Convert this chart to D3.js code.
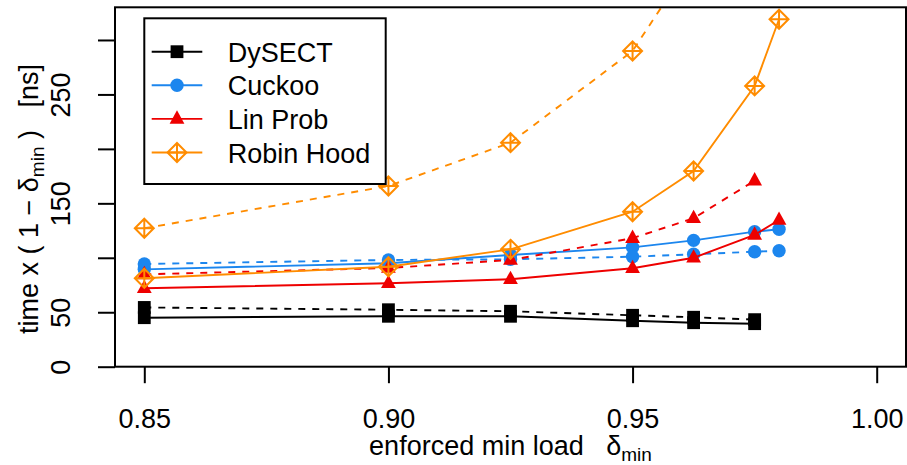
<!DOCTYPE html>
<html>
<head>
<meta charset="utf-8">
<script src="https://cdn.jsdelivr.net/npm/d3@7"></script>
<style>
  body { margin: 0; background: #fff; }
  svg { font-family: "Liberation Sans", Arial, Helvetica, sans-serif; }
  text { white-space: pre; }
</style>
</head>
<body>
<div id="chart"></div>
<script>
// load factor values on the x axis
const loads = [0.85, 0.90, 0.925, 0.95, 0.9625, 0.975, 0.98];

// time x (1 - delta_min) in ns, null = not measured
const dysectSolid  = [45.0, 46.3, 46.3, 42.2, 40.4, 39.5, null];
const dysectDashed = [54.4, 52.3, 50.9, 47.2, 45.4, 43.2, null];
const cuckooSolid  = [89.4, 95.0, 102.6, 109.6, 116.0, 124.0, 126.2];
const cuckooDashed = [94.3, 98.0, 98.6, 101.0, 103.2, 105.6, 106.5];
const linSolid     = [72.0, 76.6, 80.3, 90.4, 100.0, 121.0, 134.7];
const linDashed    = [84.8, 90.6, 98.0, 118.0, 136.3, 170.8, null];
const robinSolid   = [81.2, 91.8, 107.8, 142.3, 179.7, 257.8, 319.0];
const robinDashed  = [127.1, 165.9, 205.7, 289.9, 375.0, null, null];

const xTicks = [0.85, 0.90, 0.95, 1.00];
const yTicks = [0, 50, 100, 150, 200, 250, 300];
const yLabelled = [0, 50, 150, 250];

const names  = ["DySECT", "Cuckoo", "Lin Prob", "Robin Hood"];
const colors = ["#000000", "#1C86EE", "#EE0000", "#FF8C00"];
const shapes = ["square", "circle", "triangle", "diamond"];

const series = [
    { k: 0, values: dysectSolid,  dash: null },
    { k: 0, values: dysectDashed, dash: "7,7" },
    { k: 1, values: cuckooSolid,  dash: null },
    { k: 1, values: cuckooDashed, dash: "7,7" },
    { k: 2, values: linSolid,     dash: null },
    { k: 2, values: linDashed,    dash: "7,7" },
    { k: 3, values: robinSolid,   dash: null },
    { k: 3, values: robinDashed,  dash: "7,7" }
];

const width = 907, height = 465;
const box = { left: 115, right: 906, top: 7.3, bottom: 366.7 };
const FS = 27;

const svg = d3.select("#chart").append("svg")
    .attr("width", width)
    .attr("height", height);

const x = d3.scaleLinear().domain([0.844, 1.006]).range([box.left, box.right]);
const y = d3.scaleLinear().domain([0, 330]).range([box.bottom, box.top]);

svg.append("clipPath").attr("id", "clip")
    .append("rect")
    .attr("x", box.left).attr("y", box.top)
    .attr("width", box.right - box.left).attr("height", box.bottom - box.top);

// marker drawing
function drawMarker(g, shape, color) {
    if (shape === "square") {
        g.append("rect").attr("x", -6.4).attr("y", -6.4).attr("width", 12.8).attr("height", 12.8)
            .attr("fill", color);
    } else if (shape === "circle") {
        g.append("circle").attr("r", 6.7).attr("fill", color);
    } else if (shape === "triangle") {
        g.append("path").attr("d", "M0,-8.6L7.4,4.8L-7.4,4.8Z").attr("fill", color);
    } else {
        const s = 9.5;
        g.append("path")
            .attr("d", `M0,${-s}L${s},0L0,${s}L${-s},0Z M0,${-s}L0,${s} M${-s},0L${s},0`)
            .attr("fill", "none").attr("stroke", color).attr("stroke-width", 2);
    }
}

const plot = svg.append("g").attr("clip-path", "url(#clip)");

const line = d3.line()
    .defined(d => d.v != null)
    .x(d => x(d.x))
    .y(d => y(d.v));

series.forEach(s => {
    const pts = loads.map((l, i) => ({ x: l, v: s.values[i] }));
    const g = plot.append("g");
    g.append("path")
        .datum(pts)
        .attr("d", line)
        .attr("fill", "none")
        .attr("stroke", colors[s.k])
        .attr("stroke-width", 1.9)
        .attr("stroke-dasharray", s.dash);
    pts.filter(d => d.v != null).forEach(d => {
        const m = g.append("g").attr("transform", `translate(${x(d.x)},${y(d.v)})`);
        drawMarker(m, shapes[s.k], colors[s.k]);
    });
});

// frame
svg.append("rect")
    .attr("x", box.left).attr("y", box.top)
    .attr("width", box.right - box.left).attr("height", box.bottom - box.top)
    .attr("fill", "none").attr("stroke", "#000").attr("stroke-width", 2);

// x axis
const xAxis = svg.append("g")
    .attr("transform", `translate(0,${box.bottom})`)
    .call(d3.axisBottom(x).tickValues(xTicks).tickFormat(d3.format(".2f"))
        .tickSize(16.5).tickPadding(25.5));
xAxis.select(".domain").remove();
xAxis.selectAll(".tick line").attr("stroke-width", 2);
xAxis.selectAll(".tick text").attr("font-size", FS).attr("font-family", null).attr("fill", "#000");

// y axis
const yAxis = svg.append("g")
    .attr("transform", `translate(${box.left},0)`)
    .call(d3.axisLeft(y).tickValues(yTicks)
        .tickFormat(d => yLabelled.includes(d) ? d : "")
        .tickSize(17));
yAxis.select(".domain").remove();
yAxis.selectAll(".tick line").attr("stroke-width", 2);
yAxis.selectAll(".tick text")
    .attr("font-size", FS).attr("font-family", null).attr("fill", "#000")
    .attr("x", null).attr("dy", null)
    .attr("text-anchor", "middle")
    .attr("transform", "translate(-45,0) rotate(-90)");

// axis titles
const xt = svg.append("text")
    .attr("x", (box.left + box.right) / 2)
    .attr("y", 455)
    .attr("text-anchor", "middle")
    .attr("font-size", FS);
xt.append("tspan").text("enforced min load   δ");
xt.append("tspan").attr("font-size", 19).attr("dy", 6).text("min");

const yt = svg.append("text")
    .attr("transform", `translate(38,${(box.top + box.bottom) / 2 + 12}) rotate(-90)`)
    .attr("text-anchor", "middle")
    .attr("font-size", FS);
yt.append("tspan").text("time x ( 1 − δ");
yt.append("tspan").attr("font-size", 19).attr("dy", 6).text("min");
yt.append("tspan").attr("dy", -6).text(" )   [ns]");

// legend
const leg = svg.append("g");
leg.append("rect")
    .attr("x", 144.3).attr("y", 18.3).attr("width", 241.4).attr("height", 165.7)
    .attr("fill", "#fff").attr("stroke", "#000").attr("stroke-width", 2);
names.forEach((n, i) => {
    const ly = 51.7 + i * 33.6;
    leg.append("line")
        .attr("x1", 151.7).attr("x2", 202.3).attr("y1", ly).attr("y2", ly)
        .attr("stroke", colors[i]).attr("stroke-width", 1.9);
    const m = leg.append("g").attr("transform", `translate(177,${ly})`);
    drawMarker(m, shapes[i], colors[i]);
    leg.append("text")
        .attr("x", 227.7).attr("y", ly + 10)
        .attr("font-size", FS)
        .text(n);
});
</script>
</body>
</html>
